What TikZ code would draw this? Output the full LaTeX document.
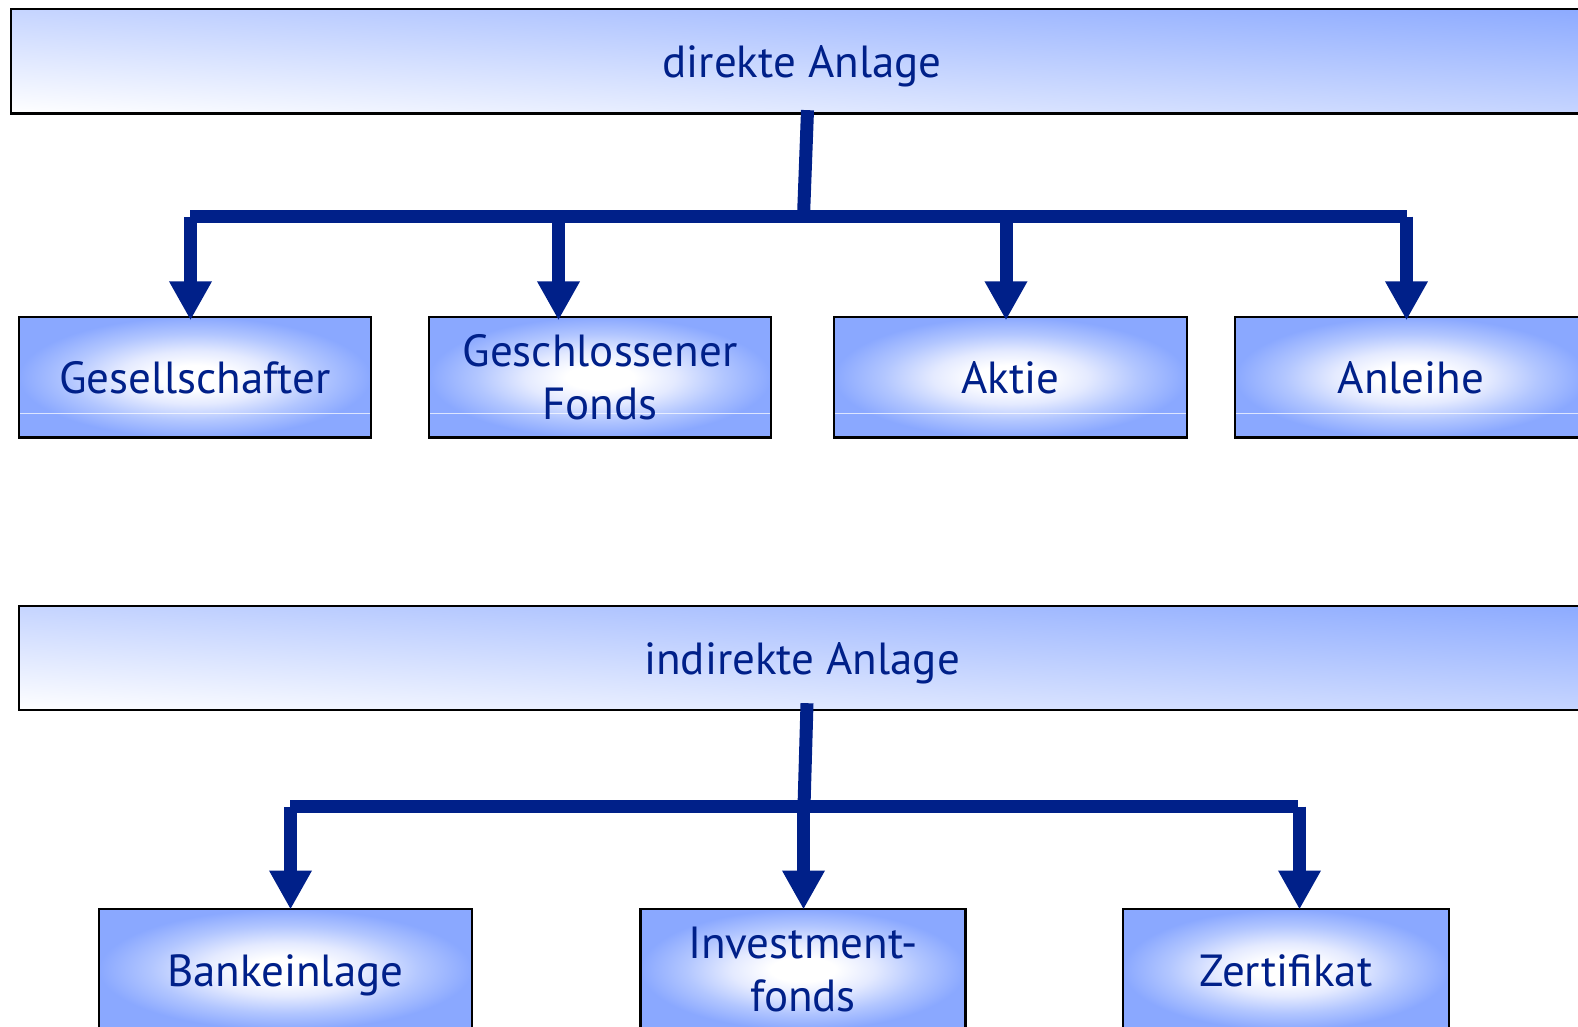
\documentclass[tikz,border=0pt]{standalone}
\usepackage{fontspec}
\setmainfont{PT Sans}
\usetikzlibrary{arrows.meta,calc}
\definecolor{txt}{RGB}{0,32,137}
\definecolor{conn}{RGB}{0,32,137}
\definecolor{bA}{RGB}{138,168,255}
\definecolor{bB}{RGB}{178,198,255}
\definecolor{bC}{RGB}{228,234,255}
\definecolor{hR}{RGB}{140,170,255}
\pgfdeclareradialshading{boxshade}{\pgfpoint{0bp}{0bp}}{color(0bp)=(white); color(5bp)=(white); color(11bp)=(bC); color(18bp)=(bB); color(25bp)=(bA); color(50bp)=(bA)}
\begin{document}
\begin{tikzpicture}[x=1pt,y=-1pt,
  headbox/.style={draw=black, line width=2.4pt,
    path picture={
      \coordinate (pc) at (path picture bounding box.center);
      \begin{scope}[transform canvas={rotate around={-3.78:(pc)}}]
        \fill[white] ($(pc)+(-1000,104)$) rectangle ($(pc)+(1000,400)$);
        \fill[hR] ($(pc)+(-1000,-400)$) rectangle ($(pc)+(1000,-104)$);
        \shade[top color=hR, bottom color=white] ($(pc)+(-1000,-104.5)$) rectangle ($(pc)+(1000,104.5)$);
      \end{scope}},
    text=txt, font=\fontsize{45}{53.3}\selectfont, inner sep=0pt, minimum height=104.5pt,
    text height=33pt, text depth=0pt},
  itembox/.style={draw=black, line width=2.4pt, shade, shading=boxshade,
    text=txt, font=\fontsize{45}{53.3}\selectfont, align=center, inner sep=0pt, minimum height=120.6pt},
  withsheen/.style={path picture={\draw[sheen] ([yshift=24.5pt]path picture bounding box.south west) -- ([yshift=24.5pt]path picture bounding box.south east);}},
  oneline/.style={text height=33pt, text depth=0pt},
  barline/.style={draw=conn, line width=13pt, line cap=butt},
  arr/.style={draw=conn, line width=13pt, line cap=butt, -{Triangle[width=40pt,length=39pt]}},
  sheen/.style={draw=white, line width=1.2pt, opacity=0.7}]
\useasboundingbox (0,0) rectangle (1578,1027);
\clip (0,0) rectangle (1578,1027);
\fill[white] (0,0) rectangle (1578,1027);

% ---- direct investment ----
\node[headbox, minimum width=1582pt] (d) at (802,61.2) {direkte Anlage};
\node[itembox, withsheen, oneline, minimum width=352pt] (g1) at (194.7,377.3) {Gesellschafter};
\node[itembox, withsheen, minimum width=342pt] (g2) at (600,377.3) {Geschlossener\\Fonds};
\node[itembox, withsheen, oneline, minimum width=353pt] (g3) at (1010.5,377.3) {Aktie};
\node[itembox, withsheen, oneline, minimum width=352pt] (g4) at (1411,377.3) {Anleihe};
\coordinate (j0) at (803.5,216.5);
\coordinate (a1) at (190.5,216.5);
\coordinate (a2) at (558.5,216.5);
\coordinate (a3) at (1006,216.5);
\coordinate (a4) at (1406.5,216.5);
\coordinate (e1) at (190,216.5);
\coordinate (e4) at (1407,216.5);
\draw[barline] ($(d.south)+(5.5,-4.5)$) -- (j0);
\draw[barline] (e1) -- (e4);
\foreach \a/\n in {a1/g1,a2/g2,a3/g3,a4/g4}{
  \draw[arr] (\a) -- ($(\a |- \n.north)+(0,4.5)$);
}

% ---- indirect investment ----
\node[headbox, minimum width=1566pt, minimum height=104pt] (i) at (802,658) {indirekte Anlage};
\node[itembox, oneline, minimum width=373pt] (h1) at (285.3,969.5) {Bankeinlage};
\node[itembox, minimum width=325pt] (h2) at (803,969.5) {Investment-\\fonds};
\node[itembox, oneline, minimum width=326pt] (h3) at (1286,969.5) {Zertifikat};
\coordinate (k0) at (804,806.5);
\coordinate (c1) at (290.5,806.5);
\coordinate (c2) at (803.5,806.5);
\coordinate (c3) at (1299.5,806.5);
\coordinate (f1) at (290,806.5);
\coordinate (f3) at (1298,806.5);
\draw[barline] ($(i.south)+(5,-8)$) -- (k0);
\draw[barline] (f1) -- (f3);
\foreach \a/\n in {c1/h1,c2/h2,c3/h3}{
  \draw[arr] (\a) -- ($(\a |- \n.north)+(0,1.5)$);
}
\end{tikzpicture}
\end{document}
